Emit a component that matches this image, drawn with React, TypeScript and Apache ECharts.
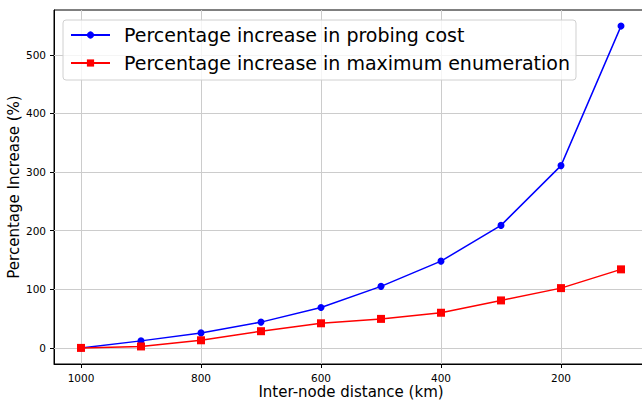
import React, { useEffect, useRef } from "react";
import * as echarts from "echarts";

const distances = [1000, 900, 800, 700, 600, 500, 400, 300, 200, 100];
const probingCost = [0, 12, 25.6, 44, 69, 105, 148, 209, 311, 549];
const maxEnumeration = [0, 2.5, 13, 28.5, 42, 49.5, 60, 81, 102, 134];
const xTicks = [1000, 800, 600, 400, 200];
const yTicks = [0, 100, 200, 300, 400, 500];
const seriesNames = [
  "Percentage increase in probing cost",
  "Percentage increase in maximum enumeration",
];

const FONT = "DejaVu Sans";

export default function App() {
  const ref = useRef<HTMLDivElement>(null);
  useEffect(() => {
    document.body.style.margin = "0";
    const chart = echarts.init(ref.current!, null, { renderer: "svg" });
    const gridColor = "#cccccc";
    chart.setOption({
      animation: false,
      backgroundColor: "#ffffff",
      textStyle: { fontFamily: FONT },
      grid: {
        left: 54,
        top: 10,
        width: 594,
        height: 354,
        containLabel: false,
        outerBoundsMode: "none",
        show: true,
        borderColor: "#000",
        borderWidth: 1,
        backgroundColor: "transparent",
      },
      legend: {
        left: 63,
        top: 20,
        orient: "vertical",
        padding: [4, 6, 6, 7],
        itemGap: 6,
        itemWidth: 39,
        itemHeight: 9,
        backgroundColor: "rgba(255,255,255,0.8)",
        borderColor: "#d0d0d0",
        borderWidth: 1,
        borderRadius: 3,
        textStyle: {
          fontFamily: FONT,
          fontSize: 19,
          color: "#000",
          lineHeight: 22,
          padding: [0, 0, 0, 9],
        },
        data: seriesNames,
      },
      xAxis: {
        type: "value",
        inverse: true,
        min: 55,
        max: 1045,
        name: "Inter-node distance (km)",
        nameLocation: "middle",
        nameGap: 20,
        nameMoveOverlap: false,
        nameTextStyle: { fontFamily: FONT, fontSize: 15, lineHeight: 16, color: "#000" },
        axisLine: { show: true, onZero: false, lineStyle: { color: "#000", width: 1 } },
        axisTick: {
          show: true,
          customValues: xTicks,
          length: 4,
          lineStyle: { color: "#000" },
        },
        axisLabel: {
          customValues: xTicks,
          formatter: (v: number) => String(v),
          fontFamily: FONT,
          fontSize: 10.5,
          lineHeight: 11,
          color: "#000",
          margin: 8,
        },
        splitLine: { show: false },
      },
      yAxis: {
        type: "value",
        min: -27.45,
        max: 576.45,
        name: "Percentage Increase (%)",
        nameLocation: "middle",
        nameGap: 33,
        nameMoveOverlap: false,
        nameRotate: 90,
        nameTextStyle: { fontFamily: FONT, fontSize: 15, color: "#000" },
        axisLine: { show: true, onZero: false, lineStyle: { color: "#000", width: 1 } },
        axisTick: {
          show: true,
          customValues: yTicks,
          length: 4,
          lineStyle: { color: "#000" },
        },
        axisLabel: {
          customValues: yTicks,
          formatter: (v: number) => String(v),
          fontFamily: FONT,
          fontSize: 10.5,
          color: "#000",
          margin: 8,
        },
        splitLine: { show: false },
      },
      series: [
        {
          name: seriesNames[0],
          type: "line",
          data: distances.map((d, i) => [d, probingCost[i]]),
          symbol: "circle",
          symbolSize: 7,
          itemStyle: { color: "#0000ff" },
          lineStyle: { color: "#0000ff", width: 1.5 },
          z: 3,
          markLine: {
            silent: true,
            symbol: "none",
            label: { show: false },
            lineStyle: { color: gridColor, width: 1, type: "solid" },
            z: 1,
            data: [
              ...xTicks.map((v) => ({ xAxis: v })),
              ...yTicks.map((v) => ({ yAxis: v })),
            ],
          },
        },
        {
          name: seriesNames[1],
          type: "line",
          data: distances.map((d, i) => [d, maxEnumeration[i]]),
          symbol: "rect",
          symbolSize: 8,
          itemStyle: { color: "#ff0000" },
          lineStyle: { color: "#ff0000", width: 1.5 },
          z: 4,
        },
      ],
    });
    return () => chart.dispose();
  }, []);
  return <div ref={ref} style={{ width: 642, height: 400 }} />;
}
